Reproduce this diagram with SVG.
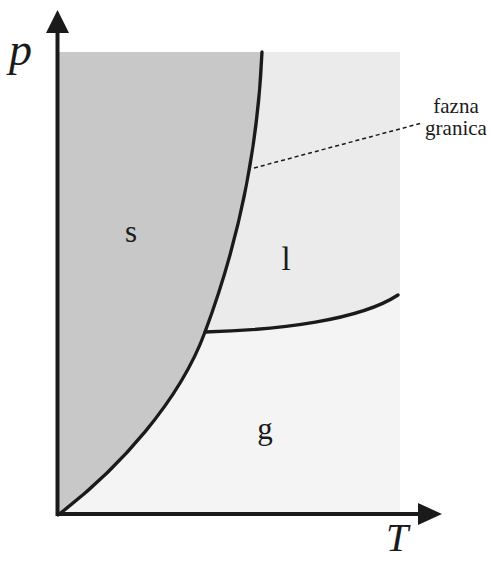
<svg xmlns="http://www.w3.org/2000/svg" width="491" height="561" viewBox="0 0 491 561">
<style>
.lbl{font-family:"Liberation Serif","Times New Roman",serif;fill:#1a1a1a}
.ax{font-family:"Liberation Serif","Times New Roman",serif;font-style:italic;fill:#1a1a1a}
.curve{fill:none;stroke:#1a1a1a;stroke-width:3.3;stroke-linecap:round}
.axis{stroke:#1a1a1a;stroke-width:4;fill:none}
</style>
<rect width="491" height="561" fill="#ffffff"/>
<g id="gas">
<rect x="58" y="52" width="342" height="463" fill="#f4f4f4"/>
<text class="lbl" x="265" y="439" font-size="31" text-anchor="middle">g</text>
</g>
<g id="liquid">
<path d="M205,332 C230,265 257,170 262,52 L400,52 L400,295 L398,295 C360,320 280,330 205,332 Z" fill="#ebebeb"/>
<text class="lbl" x="286" y="270" font-size="33" text-anchor="middle">l</text>
</g>
<g id="solid">
<path d="M58,515 C120,468 180,400 205,332 C230,265 257,170 262,52 L58,52 Z" fill="#c8c8c8"/>
<text class="lbl" x="131" y="242" font-size="31" text-anchor="middle">s</text>
</g>
<g id="connectors">
<path class="curve" d="M58,515 C120,468 180,400 205,332 C230,265 257,170 262,52"/>
<path class="curve" d="M205,332 C280,330 360,320 398,295"/>
<line x1="254" y1="168" x2="422" y2="123" stroke="#1a1a1a" stroke-width="1.5" stroke-dasharray="4,3"/>
</g>
<g id="label-fazna-granica">
<text class="lbl" x="456" y="113" font-size="21" text-anchor="middle">fazna</text>
<text class="lbl" x="456" y="135" font-size="21" text-anchor="middle">granica</text>
</g>
<g id="axes">
<line class="axis" x1="57.5" y1="516" x2="57.5" y2="30"/>
<polygon points="57.5,10 46,33 69,33" fill="#1a1a1a"/>
<line class="axis" x1="56" y1="514" x2="420" y2="514"/>
<polygon points="442,514 418,503 418,525" fill="#1a1a1a"/>
<text class="ax" x="9" y="65" font-size="46">p</text>
<text class="ax" x="386" y="551" font-size="40">T</text>
</g>
</svg>
